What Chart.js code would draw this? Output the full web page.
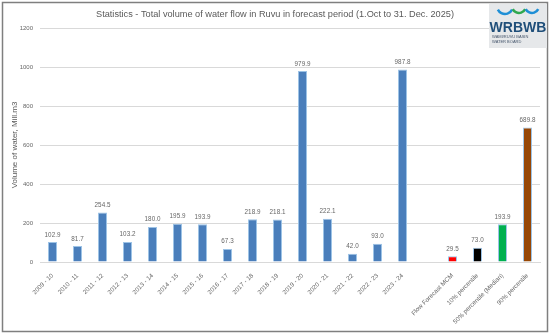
<!DOCTYPE html>
<html>
<head>
<meta charset="utf-8">
<script src="https://cdn.jsdelivr.net/npm/chart.js@4/dist/chart.umd.min.js"></script>
<style>
  html, body { margin: 0; padding: 0; background: #fff; }
  #wrap { width: 550px; height: 334px; position: relative; }
</style>
</head>
<body>
<div id="wrap"><canvas id="chart" width="550" height="334"></canvas></div>
<script>
// categories (one empty slot separates the seasons from the forecast statistics)
const seasons = ['2009 - 10', '2010 - 11', '2011 - 12', '2012 - 13', '2013 - 14', '2014 - 15', '2015 - 16',
  '2016 - 17', '2017 - 18', '2018 - 19', '2019 - 20', '2020 - 21', '2021 - 22', '2022 - 23', '2023 - 24'];
const statLabels = ['Flow Forecast MCM', '10% percentile', '50% percentile (Median)', '90% percentile'];
const seasonValues = [102.9, 81.7, 254.5, 103.2, 180.0, 195.9, 193.9, 67.3, 218.9, 218.1, 979.9, 222.1, 42.0, 93.0, 987.8];
const statValues = [29.5, 73.0, 193.9, 689.8];
const yTicks = [0, 200, 400, 600, 800, 1000, 1200];

const seasonColor = '#4a7ebb';
const statColors = ['#ff0000', '#000000', '#00b050', '#974706'];

const labels = [...seasons, '', ...statLabels];
const values = [...seasonValues, null, ...statValues];
const colors = [...seasons.map(() => seasonColor), 'transparent', ...statColors];

const valueLabels = {
  id: 'valueLabels',
  afterDatasetsDraw(chart) {
    const ctx = chart.ctx;
    const meta = chart.getDatasetMeta(0);
    ctx.save();
    ctx.font = '6.3px "Liberation Sans", sans-serif';
    ctx.fillStyle = '#666666';
    ctx.textAlign = 'center';
    ctx.textBaseline = 'bottom';
    meta.data.forEach((bar, i) => {
      if (values[i] == null) return;
      ctx.fillText(values[i].toFixed(1), bar.x, bar.y - 4);
    });
    ctx.restore();
  }
};

const frameAndLogo = {
  id: 'frameAndLogo',
  afterDraw(chart) {
    const ctx = chart.ctx;
    ctx.save();
    // outer frame
    ctx.strokeStyle = '#7f7f7f';
    ctx.lineWidth = 1.5;
    ctx.strokeRect(2.5, 2.5, 545, 329);
    // logo
    ctx.fillStyle = '#e6e8ea';
    ctx.fillRect(489, 4, 58, 44);
    ctx.lineWidth = 2.5;
    ctx.strokeStyle = '#1f8fd6';
    ctx.beginPath(); ctx.arc(505, 6, 8, 0.15 * Math.PI, 0.85 * Math.PI); ctx.stroke();
    ctx.strokeStyle = '#2fa84f';
    ctx.beginPath(); ctx.arc(519, 6, 7, 0.15 * Math.PI, 0.85 * Math.PI); ctx.stroke();
    ctx.strokeStyle = '#1f8fd6';
    ctx.beginPath(); ctx.arc(532, 6, 7, 0.15 * Math.PI, 0.85 * Math.PI); ctx.stroke();
    ctx.fillStyle = '#1f4e79';
    ctx.font = 'bold 14px "Liberation Sans", sans-serif';
    ctx.textAlign = 'center';
    ctx.textBaseline = 'alphabetic';
    ctx.fillText('WRBWB', 518, 32);
    ctx.font = '4px "Liberation Sans", sans-serif';
    ctx.textAlign = 'left';
    ctx.fillStyle = '#44546a';
    ctx.fillText('WAMI/RUVU BASIN', 492, 38);
    ctx.fillText('WATER BOARD', 492, 43);
    ctx.restore();
  }
};

new Chart(document.getElementById('chart'), {
  type: 'bar',
  data: {
    labels: labels,
    datasets: [{
      data: values,
      backgroundColor: colors,
      borderColor: '#9dc3e6',
      borderWidth: 1,
      categoryPercentage: 1,
      barPercentage: 0.36
    }]
  },
  options: {
    responsive: false,
    animation: false,
    layout: { padding: { top: 9, left: 10, right: 10, bottom: 4 } },
    plugins: {
      legend: { display: false },
      tooltip: { enabled: false },
      title: {
        display: true,
        text: 'Statistics - Total volume of water flow in Ruvu in forecast period (1.Oct to 31. Dec. 2025)',
        color: '#595959',
        font: { family: '"Liberation Sans", sans-serif', size: 9.2, weight: 'normal' },
        padding: { top: 0, bottom: 8 }
      }
    },
    scales: {
      x: {
        afterFit(axis) { axis.height = 68; },
        grid: { display: false },
        border: { color: '#d9d9d9' },
        ticks: {
          color: '#666666',
          font: { family: '"Liberation Sans", sans-serif', size: 6.3 },
          maxRotation: 45, minRotation: 45,
          autoSkip: false,
          padding: 2
        }
      },
      y: {
        min: 0, max: 1200,
        afterBuildTicks(axis) { axis.ticks = yTicks.map(v => ({ value: v })); },
        afterFit(axis) { axis.width = 30; },
        grid: { color: '#d9d9d9', drawTicks: false },
        border: { display: false },
        ticks: {
          color: '#666666',
          font: { family: '"Liberation Sans", sans-serif', size: 6 },
          padding: 7,
          callback: v => String(v)
        },
        title: {
          display: true,
          text: 'Volume of water, Mill.m3',
          color: '#595959',
          font: { family: '"Liberation Sans", sans-serif', size: 8 },
          padding: 0
        }
      }
    }
  },
  plugins: [valueLabels, frameAndLogo]
});
</script>
</body>
</html>
